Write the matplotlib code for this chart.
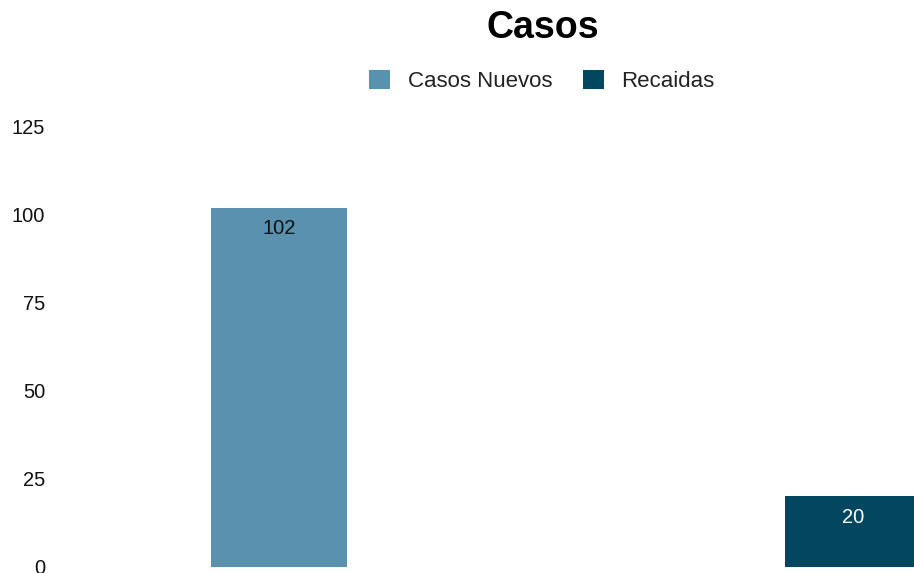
import matplotlib.pyplot as plt
from matplotlib.patches import Patch

plt.rcParams['font.family'] = ['Liberation Sans', 'DejaVu Sans']

series = ['Casos Nuevos', 'Recaidas']
values = [102, 20]
colors = ['#5a91ae', '#02465f']
label_colors = ['#111111', '#ffffff']
yticks = [0, 25, 50, 75, 100, 125]

fig = plt.figure(figsize=(9.14, 5.73), dpi=100)
ax = fig.add_axes([55 / 914, 6.3 / 573, 1 - 55 / 914, 440 / 573])

width = 0.237
positions = range(len(series))
bars = ax.bar(positions, values, width=width, color=colors)

# value labels sit just inside the top of each bar
for bar, val, tc in zip(bars, values, label_colors):
    ax.annotate(str(val), (bar.get_x() + bar.get_width() / 2, val),
                xytext=(0, -15), textcoords='offset points',
                ha='center', va='center', fontsize=14.5, color=tc)

ax.set_xlim(-0.39, 1.106)
ax.set_ylim(0, 125)
ax.set_yticks(yticks)
ax.set_xticks([])
ax.tick_params(axis='y', length=0, pad=7, labelsize=14.5, labelcolor='#111111')
for s in ax.spines.values():
    s.set_visible(False)

fig.text(543 / 914, 1 - 28 / 573, 'Casos', ha='center', va='center',
         fontsize=27, fontweight='bold', color='black')

handles = [Patch(facecolor=c, edgecolor='none', label=s) for s, c in zip(series, colors)]
fig.legend(handles=handles, loc='center', bbox_to_anchor=(542 / 914, 1 - 81 / 573),
           ncol=2, frameon=False, fontsize=16, handlelength=0.95, handleheight=0.95,
           handletextpad=0.77, columnspacing=1.4, labelcolor='#222222')

fig.savefig('out.png', dpi=100)
